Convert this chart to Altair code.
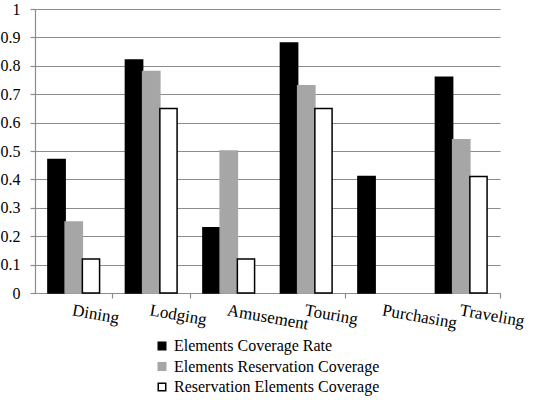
import altair as alt
import pandas as pd

categories = ["Dining", "Lodging", "Amusement", "Touring", "Purchasing", "Traveling"]
series = ["Elements Coverage Rate", "Elements Reservation Coverage", "Reservation Elements Coverage"]
coverage_rate = [0.47, 0.82, 0.23, 0.88, 0.41, 0.76]
reservation_coverage = [0.25, 0.78, 0.50, 0.73, 0.0, 0.54]
reservation_elements = [0.12, 0.65, 0.12, 0.65, 0.0, 0.41]

rows = []
for s, vals in zip(series, [coverage_rate, reservation_coverage, reservation_elements]):
    for c, v in zip(categories, vals):
        rows.append({"category": c, "series": s, "value": v})
df = pd.DataFrame(rows)

FONT = "Liberation Serif"
GRID = "#8c8c8c"

xscale = alt.Scale(domain=categories, paddingInner=0, paddingOuter=0)

leg = alt.Legend(title=None, orient="none", legendX=119, legendY=329,
                 symbolType="square", symbolSize=56, symbolStrokeWidth=1.5,
                 labelFontSize=16, labelColor="#000",
                 rowPadding=4.5, labelOffset=4, labelLimit=400)

bars = alt.Chart(df).transform_filter("datum.value > 0").mark_bar(strokeWidth=1.5).encode(
    x=alt.X("category:N", scale=xscale, sort=categories,
            axis=alt.Axis(title=None, orient="bottom", labelAngle=10, labelAlign="left",
                          labelBaseline="top", labelPadding=9, ticks=False, domain=False, grid=False,
                          labelFontSize=17, labelColor="#000",
                          labelOverlap=False, labelBound=False)),
    xOffset=alt.XOffset("series:N", sort=series,
                        scale=alt.Scale(domain=series, paddingInner=0, paddingOuter=0.75)),
    y=alt.Y("value:Q", scale=alt.Scale(domain=[0, 1]),
            axis=alt.Axis(title=None, values=[0, 0.1, 0.2, 0.3, 0.4, 0.5, 0.6, 0.7, 0.8, 0.9, 1],
                          labelExpr="datum.value == 0 ? '0' : datum.value == 1 ? '1' : format(datum.value, '.1f')",
                          grid=True, gridColor=GRID, gridWidth=1.2,
                          domainColor=GRID, domainWidth=1.2, tickColor=GRID, tickSize=5, tickWidth=1.2,
                          labelPadding=10, labelFontSize=16, labelColor="#000")),
    fill=alt.Fill("series:N", sort=series,
                  scale=alt.Scale(domain=series, range=["#000000", "#a6a6a6", "#ffffff"]),
                  legend=leg),
    stroke=alt.Stroke("series:N", sort=series,
                      scale=alt.Scale(domain=series, range=["#000000", "#a6a6a6", "#000000"]),
                      legend=leg),
)

tick_df = pd.DataFrame({"category": categories})
ticks = alt.Chart(tick_df).mark_point(opacity=0).encode(
    x=alt.X("category:N", scale=xscale, sort=categories,
            axis=alt.Axis(title=None, orient="bottom", labels=False, grid=False,
                          values=["Lodging", "Touring", "Traveling"],
                          bandPosition=1, tickExtra=True,
                          domainColor=GRID, domainWidth=1.2, tickColor=GRID, tickSize=5, tickWidth=1.2)),
    y=alt.value(0),
)

chart = alt.layer(bars, ticks).resolve_axis(x="independent").properties(
    width=465, height=284,
    autosize=alt.AutoSizeParams(type="none"),
    padding={"left": 35, "top": 9, "right": 34, "bottom": 107},
).configure(background="white", font=FONT).configure_view(stroke=None).configure_axis(
    labelFont=FONT
).configure_legend(labelFont=FONT)

chart.save("out.html", embed_options={"renderer": "svg", "actions": False})
